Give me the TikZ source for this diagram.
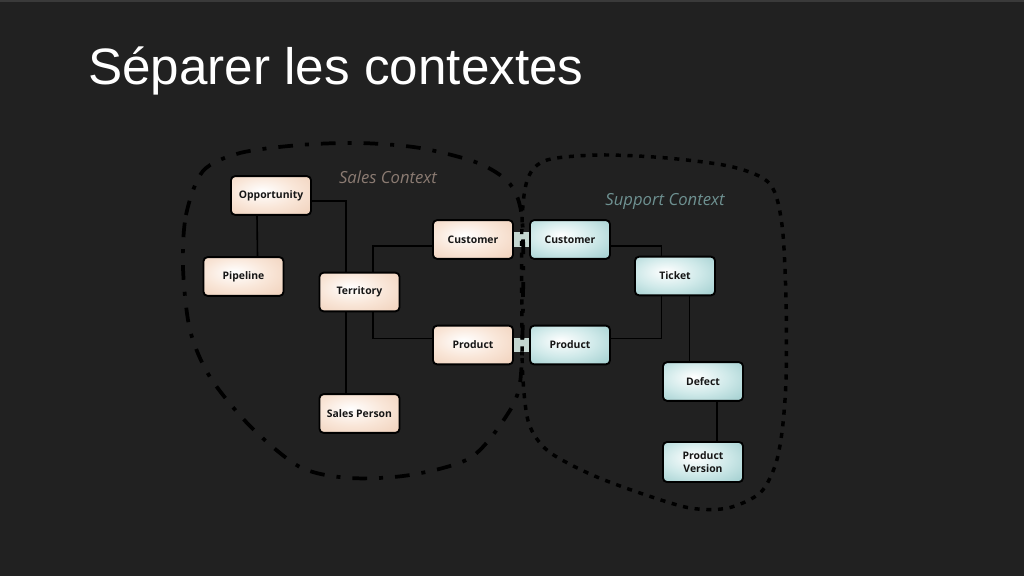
\documentclass[tikz,border=0pt]{standalone}
\usepackage{fontspec}
\setmainfont{Liberation Sans}
\newfontfamily\boxfont{Open Sans}
\usetikzlibrary{arrows}

\definecolor{bgcol}{HTML}{212121}
\definecolor{topcol}{HTML}{3A3A3A}
\definecolor{salesmid}{HTML}{F9E6D8}
\definecolor{salesout}{HTML}{EDC9B0}
\definecolor{supmid}{HTML}{CFE9E9}
\definecolor{supout}{HTML}{8FC4C5}
\definecolor{boxtext}{HTML}{161616}
\definecolor{bridgecol}{HTML}{C4D6D0}
\definecolor{salestext}{HTML}{8B7B72}
\definecolor{suptext}{HTML}{6E9191}

\pgfdeclareradialshading{salesshade}{\pgfpoint{-6bp}{6bp}}{color(0bp)=(white); color(20bp)=(salesmid);
  color(46bp)=(salesout); color(75bp)=(salesout)}
\pgfdeclareradialshading{supshade}{\pgfpoint{-6bp}{6bp}}{color(0bp)=(white); color(20bp)=(supmid);
  color(46bp)=(supout); color(75bp)=(supout)}

\begin{document}
\begin{tikzpicture}[x=0.75pt,y=-0.75pt,
  salesbox/.style={draw=black,line width=1.4pt,rounded corners=3pt,shade,shading=salesshade,
    minimum width=60pt,minimum height=29pt,inner sep=1pt,align=center,text=boxtext,
    font=\boxfont\bfseries\fontsize{7.8}{10}\selectfont},
  supbox/.style={salesbox,shading=supshade},
  link/.style={draw=black,line width=1.2pt},
  bridge/.style={draw=bridgecol,line width=11pt},
  salesline/.style={draw=black,line width=2.8pt,dash pattern=on 11pt off 9pt on 3pt off 9pt},
  supline/.style={draw=black,line width=2.6pt,dash pattern=on 3.8pt off 5pt},
  ctxlabel/.style={font=\boxfont\itshape\fontsize{12.5}{14}\selectfont}]

\fill[bgcol] (0,0) rectangle (1024,576);
\fill[topcol] (0,0) rectangle (1024,2);

\draw (88,84) node (title) [anchor=base west,inner sep=0pt,text=white,font=\fontsize{38.4}{44}\selectfont] {Séparer les contextes};

% sales context
\draw (271,195.5) node (sopp)  [salesbox] {Opportunity};
\draw (243.5,276.5) node (spip) [salesbox] {Pipeline};
\draw (359.5,292) node (ster)  [salesbox] {Territory};
\draw (473,239.5) node (scust) [salesbox] {Customer};
\draw (473,345)   node (sprod) [salesbox] {Product};
\draw (359.5,413.5) node (sper) [salesbox] {Sales Person};
\draw (388,177) node (sctx) [ctxlabel,text=salestext] {Sales Context};

\draw[link] ([yshift=-4pt]sopp.east) -| ([xshift=-10pt]ster.north);
\draw[link] ([xshift=-10.5pt]sopp.south) -- ([xshift=10.5pt]spip.north);
\draw[link] ([xshift=10pt]ster.north) |- ([yshift=-5pt]scust.west);
\draw[link] ([xshift=10pt]ster.south) |- ([yshift=5pt]sprod.west);
\draw[link] ([xshift=-10pt]ster.south) -- ([xshift=-10pt]sper.north);

% support context
\draw (570,239.5) node (ucust) [supbox] {Customer};
\draw (675,276)   node (utick) [supbox] {Ticket};
\draw (570,345)   node (uprod) [supbox] {Product};
\draw (703,381.5) node (udef)  [supbox] {Defect};
\draw (703,462)   node (uver)  [supbox,minimum height=30pt] {Product\\Version};
\draw (665,201) node (uctx) [ctxlabel,text=suptext] {Support Context};

\draw[link] ([yshift=-5pt]ucust.east) -| ([xshift=-10pt]utick.north);
\draw[link] ([xshift=-10pt]utick.south) |- ([yshift=5pt]uprod.east);
\draw[link] ([xshift=11pt]utick.south) -- ([xshift=-10pt]udef.north);
\draw[link] ([xshift=10.5pt]udef.south) -- ([xshift=10.5pt]uver.north);

% shared
\draw[bridge] (scust.east) -- (ucust.west);
\draw[bridge] (sprod.east) -- (uprod.west);

\draw[salesline] plot[smooth cycle] coordinates {(183,268) (186,215) (203,171) (240,153) (300,145)
  (360,143) (420,148) (478,163) (510,184) (522,218) (523,300) (520,383) (505,418) (470,458)
  (410,475) (350,478) (300,467) (250,426) (210,377) (190,330)};
\draw[supline] plot[smooth cycle] coordinates {(522,330) (522,222) (528,178) (547,160) (600,155)
  (667,158) (733,167) (770,184) (782,225) (786,300) (786,380) (782,432) (775,466) (760,493)
  (728,508) (690,508) (640,493) (590,474) (548,451) (529,424) (523,380)};
\end{tikzpicture}
\end{document}
